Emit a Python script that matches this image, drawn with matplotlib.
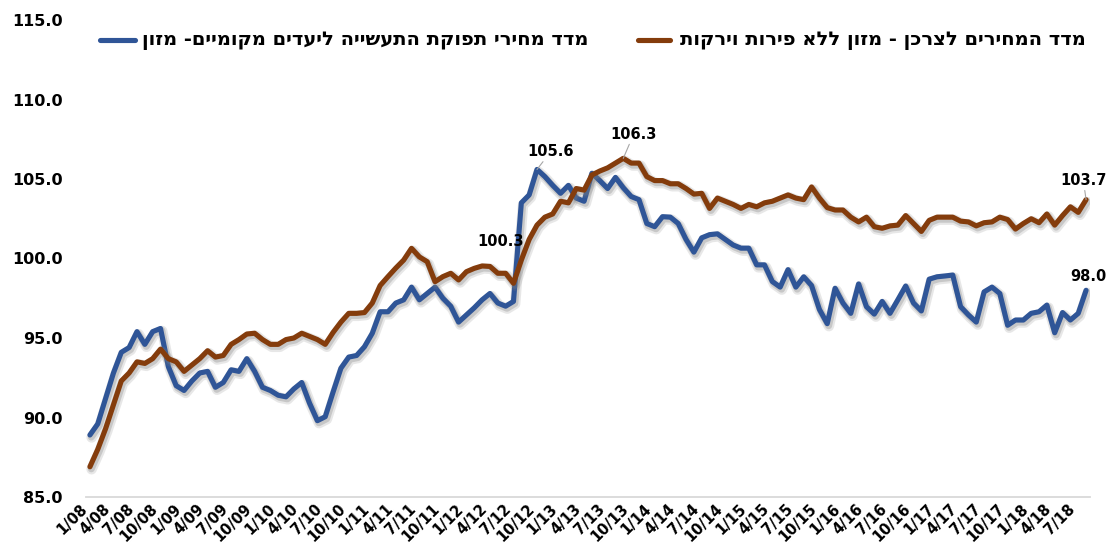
import matplotlib
matplotlib.use("Agg")
import matplotlib.pyplot as plt
import matplotlib.patheffects as pe
from matplotlib.lines import Line2D
import pandas as pd

# ---- data ----
months = pd.date_range("2008-01-01", periods=128, freq="MS")
categories = [f"{d.month}/{d.year % 100:02d}" for d in months]

ppi_food = [
    88.9, 89.6, 91.2, 92.8, 94.1, 94.4, 95.4, 94.6, 95.4, 95.6,
    93.2, 92.0, 91.7, 92.3, 92.8, 92.9, 91.9, 92.2, 93.0, 92.9,
    93.7, 92.9, 91.9, 91.7, 91.4, 91.3, 91.8, 92.2, 90.9, 89.8,
    90.05, 91.6, 93.1, 93.8, 93.9, 94.45, 95.3, 96.65, 96.65, 97.2,
    97.4, 98.2, 97.4, 97.8, 98.2, 97.5, 97.0, 96.0, 96.45, 96.9,
    97.4, 97.8, 97.2, 97.0, 97.3, 103.5, 104.0, 105.6, 105.15, 104.6,
    104.1, 104.6, 103.8, 103.6, 105.36, 104.9, 104.4, 105.1, 104.45, 103.9,
    103.7, 102.2, 102.0, 102.63, 102.6, 102.2, 101.2, 100.4, 101.3, 101.5,
    101.55, 101.2, 100.85, 100.65, 100.65, 99.6, 99.6, 98.55, 98.2, 99.3,
    98.2, 98.85, 98.3, 96.8, 95.9, 98.13, 97.2, 96.55, 98.4, 96.97,
    96.5, 97.3, 96.55, 97.4, 98.27, 97.2, 96.7, 98.7, 98.85, 98.9,
    98.96, 96.97, 96.45, 96.0, 97.9, 98.2, 97.8, 95.8, 96.13, 96.13,
    96.55, 96.65, 97.07, 95.33, 96.6, 96.13, 96.55, 98.0,
]

cpi_food = [
    86.9, 88.0, 89.3, 90.8, 92.3, 92.8, 93.5, 93.4, 93.7, 94.3,
    93.7, 93.5, 92.9, 93.3, 93.7, 94.2, 93.8, 93.9, 94.6, 94.9,
    95.25, 95.3, 94.9, 94.6, 94.6, 94.9, 95.0, 95.3, 95.1, 94.9,
    94.6, 95.35, 96.0, 96.55, 96.55, 96.6, 97.2, 98.3, 98.86, 99.4,
    99.9, 100.64, 100.1, 99.8, 98.54, 98.86, 99.07, 98.65, 99.17, 99.38,
    99.53, 99.5, 99.07, 99.07, 98.44, 99.9, 101.2, 102.1, 102.6, 102.8,
    103.6, 103.5, 104.4, 104.3, 105.25, 105.5, 105.7, 106.0, 106.3, 106.0,
    106.0, 105.15, 104.9, 104.9, 104.7, 104.7, 104.4, 104.05, 104.1, 103.15,
    103.8, 103.6, 103.4, 103.15, 103.4, 103.25, 103.5, 103.6, 103.8, 104.0,
    103.8, 103.7, 104.5, 103.8, 103.2, 103.05, 103.05, 102.6, 102.3, 102.6,
    102.0, 101.9, 102.05, 102.1, 102.7, 102.2, 101.7, 102.4, 102.6, 102.6,
    102.6, 102.35, 102.3, 102.05, 102.25, 102.3, 102.6, 102.45, 101.85, 102.2,
    102.5, 102.25, 102.8, 102.1, 102.7, 103.25, 102.9, 103.7,
]

label_ppi = "מדד מחירי תפוקת התעשייה ליעדים מקומיים- מזון"
label_cpi = "מדד המחירים לצרכן - מזון ללא פירות וירקות"
yticks = [85, 90, 95, 100, 105, 110, 115]
tick_step = 3

BLUE = "#2F5597"
BROWN = "#843C0C"


def rtl(s):
    return s[::-1]


shadow = [
    pe.Stroke(offset=(1.2, -1.8), linewidth=7.5, foreground="#7f7f7f", alpha=0.18),
    pe.Stroke(offset=(1.0, -1.5), linewidth=5.0, foreground="#7f7f7f", alpha=0.30),
    pe.Normal(),
]

fig = plt.figure(figsize=(11.09, 5.6), dpi=100)
ax = fig.add_axes([86 / 1109, 63 / 560, 1004 / 1109, 477 / 560])

x = list(range(len(categories)))
ax.plot(x, ppi_food, color=BLUE, lw=3.7, solid_joinstyle="round",
        solid_capstyle="round", path_effects=shadow, zorder=3)
ax.plot(x, cpi_food, color=BROWN, lw=3.7, solid_joinstyle="round",
        solid_capstyle="round", path_effects=shadow, zorder=3)

ax.set_xlim(-0.5, len(categories) - 0.5)
ax.set_ylim(85, 115)
ax.set_yticks(yticks)
ax.set_yticklabels([f"{v:.1f}" for v in yticks], fontsize=11.5, fontweight="bold")
xt = x[::tick_step]
ax.set_xticks(xt)
ax.set_xticklabels([categories[i] for i in xt], rotation=45, ha="right",
                   fontsize=10.5, fontweight="bold")
ax.tick_params(axis="y", length=0, pad=17)
ax.tick_params(axis="x", length=0, pad=3)
for s in ["top", "right", "left"]:
    ax.spines[s].set_visible(False)
ax.spines["bottom"].set_color("#D9D9D9")
ax.spines["bottom"].set_linewidth(1.3)

# data labels
lbl_kw = dict(textcoords="offset points", ha="center", va="center",
              fontsize=10.5, fontweight="bold", color="black", zorder=5)
arrow = dict(arrowstyle="-", color="#A6A6A6", lw=0.8, shrinkA=0, shrinkB=0)
i_pmax = ppi_food.index(max(ppi_food))
i_cmax = cpi_food.index(max(cpi_food))
last = len(categories) - 1
ax.annotate(f"{ppi_food[i_pmax]:.1f}", (i_pmax, ppi_food[i_pmax]), xytext=(10, 13),
            arrowprops=arrow, **lbl_kw)
ax.annotate(f"{cpi_food[i_cmax]:.1f}", (i_cmax, cpi_food[i_cmax]), xytext=(7.5, 17.5),
            arrowprops=arrow, **lbl_kw)
ax.annotate("100.3", (54, cpi_food[54]), xytext=(-9.5, 30), **lbl_kw)
ax.annotate(f"{cpi_food[last]:.1f}", (last, cpi_food[last]), xytext=(-2, 14),
            arrowprops=arrow, **lbl_kw)
ax.annotate(f"{ppi_food[last]:.1f}", (last, ppi_food[last]), xytext=(1.5, 10), **lbl_kw)

# legend (manual, RTL text)
ly = 1 - 40 / 560
fig.add_artist(Line2D([100 / 1109, 135 / 1109], [ly, ly], color=BLUE, lw=3.7,
                      solid_capstyle="round", transform=fig.transFigure))
fig.add_artist(Line2D([638 / 1109, 670 / 1109], [ly, ly], color=BROWN, lw=3.7,
                      solid_capstyle="round", transform=fig.transFigure))
fkw = dict(fontsize=14, fontweight="bold", va="center", ha="left",
           family=["DejaVu Sans"])
fig.text(142 / 1109, ly, rtl(label_ppi), **fkw)
fig.text(680 / 1109, ly, rtl(label_cpi), **fkw)

fig.savefig("out.png", dpi=100, facecolor="white")
